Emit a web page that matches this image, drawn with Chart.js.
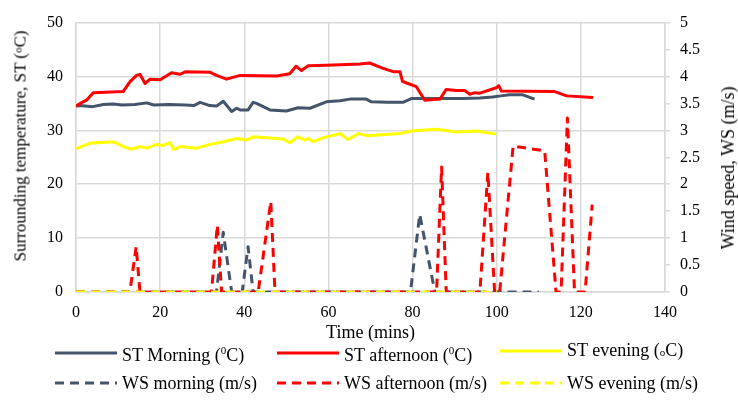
<!DOCTYPE html>
<html><head><meta charset="utf-8">
<script src="https://cdn.jsdelivr.net/npm/chart.js@4/dist/chart.umd.min.js"></script>
<style>
html,body{margin:0;padding:0;background:#fff;}
#wrap{position:relative;width:738px;height:401px;font-family:"Liberation Serif","Times New Roman",serif;color:#000;}
#c{position:absolute;left:0;top:0;}
.leg{position:absolute;display:flex;align-items:center;font-size:18px;white-space:nowrap;line-height:20px;}
.leg svg{margin-right:5px;}
.vt{position:absolute;transform:translate(-50%,-50%) rotate(-90deg);white-space:nowrap;line-height:20px;}
#lt{left:19px;top:146px;font-size:17px;}
#rt{left:728px;top:168px;font-size:18px;}
</style></head>
<body><div id="wrap"><canvas id="c" width="738" height="401"></canvas>
<div id="lt" class="vt">Surrounding temperature, ST (<span style="font-size:11px;vertical-align:4px">o</span>C)</div>
<div id="rt" class="vt">Wind speed, WS (m/s)</div>
<div id="legend"></div></div>
<script>
// ---- data ----
const xTicksMax = 140;
const stMorningT = [0,1,4,6.5,8.8,11,14,16.8,18.5,22,26,28,29.5,31.8,33.4,35,37,38.2,39,40.9,42.1,42.9,44.5,46.1,50,52.8,55.6,59.5,62.7,65.1,69,70.2,74,77.7,79.7,86.5,92,96,99,101,103.1,106.2,109];
const stMorningV = [34.5,34.6,34.4,34.8,34.9,34.7,34.8,35.1,34.7,34.8,34.7,34.6,35.2,34.6,34.5,35.4,33.5,34.1,33.8,33.8,35.2,35.0,34.4,33.8,33.6,34.2,34.1,35.3,35.5,35.8,35.8,35.3,35.2,35.2,35.9,35.9,35.9,36.0,36.2,36.4,36.6,36.6,35.8];
const stAfternoonT = [0,1,2.5,4.1,11.2,12.8,14.4,15.2,16.4,17.6,20,22.7,24.7,26.1,31.8,33.4,35.8,39,47.7,50.8,52.3,53.6,55.2,59.5,67.5,69.8,73,75.4,77,77.6,78.9,80.9,82.9,86.5,88,90.4,92.4,93.6,94.8,96,99.9,100.5,101.1,113.8,116.6,122.9];
const stAfternoonV = [34.5,35.0,35.6,37.0,37.2,39.0,40.2,40.4,38.7,39.5,39.4,40.7,40.4,40.9,40.8,40.2,39.5,40.2,40.1,40.5,41.9,41.1,42.0,42.1,42.3,42.5,41.5,40.9,40.9,39.1,38.7,38.1,35.6,35.8,37.6,37.4,37.4,36.7,37.0,36.9,37.9,38.3,37.3,37.2,36.4,36.1];
const stEveningT = [0,3.3,8.9,11.2,13.2,15.2,16.8,19.2,20.7,22.3,23.3,24.7,28.7,31.8,35,38.2,40.5,42.1,46.1,49.2,50.8,52.8,54.4,55.2,56.4,58.7,62.7,64.7,67.1,69.4,77,79.7,85.7,90.4,95.2,99.9];
const stEveningV = [26.6,27.6,27.9,27.0,26.5,27.0,26.7,27.4,27.2,27.7,26.4,27.0,26.7,27.4,27.9,28.5,28.2,28.8,28.6,28.4,27.7,28.8,28.2,28.5,27.9,28.6,29.4,28.3,29.4,29.0,29.4,29.9,30.2,29.7,29.9,29.3];
const wsMorningT = [0,33.4,35,37,39.5,40.9,42.1,79.5,81.7,85.3,110];
const wsMorningV = [0,0,1.11,0,0,0.84,0,0,1.44,0,0];
const wsAfternoonT = [0,12.8,14.3,15.2,32.2,33.6,34.6,43.3,46.3,47.3,85.7,86.9,88,96,97.9,99.5,100.7,103.9,106.2,111.4,114.1,115.3,116.8,118.5,121,122.7];
const wsAfternoonV = [0,0,0.84,0,0,1.24,0,0,1.68,0,0,2.32,0,0,2.22,0,0,2.71,2.68,2.62,0,0,3.23,0,0,1.62];
const wsEveningT = [0,100];
const wsEveningV = [0,0];
const leftTicks = {min:0,max:50,step:10};
const rightTicks = {min:0,max:5,step:0.5};

const FONT = "'Liberation Serif','Times New Roman',serif";
function pts(t,v){return t.map((x,i)=>({x:x,y:v[i]}));}
const C_M='#44546A', C_A='#FF0000', C_E='#FFFF00';
const DASH=[9,6];
const series = [
  {label:'ST Morning', html:'ST Morning (<sup style="font-size:11px">0</sup>C)', t:stMorningT, v:stMorningV, color:C_M, dash:[], axis:'y', order:5},
  {label:'ST afternoon', html:'ST afternoon (<sup style="font-size:11px">0</sup>C)', t:stAfternoonT, v:stAfternoonV, color:C_A, dash:[], axis:'y', order:4},
  {label:'ST evening', html:'ST evening (<span style="font-size:11px">o</span>C)', t:stEveningT, v:stEveningV, color:C_E, dash:[], axis:'y', order:3},
  {label:'WS morning (m/s)', html:'WS morning (m/s)', t:wsMorningT, v:wsMorningV, color:C_M, dash:DASH, axis:'y1', order:2},
  {label:'WS afternoon (m/s)', html:'WS afternoon (m/s)', t:wsAfternoonT, v:wsAfternoonV, color:C_A, dash:DASH, axis:'y1', order:1},
  {label:'WS evening (m/s)', html:'WS evening (m/s)', t:wsEveningT, v:wsEveningV, color:C_E, dash:DASH, axis:'y1', order:0}
];

const grid = '#d9d9d9';
new Chart(document.getElementById('c'), {
  type:'line',
  data:{datasets: series.map(s=>({label:s.label, data:pts(s.t,s.v), borderColor:s.color, backgroundColor:s.color, borderWidth:3, borderDash:s.dash, yAxisID:s.axis, order:s.order, fill:false}))},
  options:{
    responsive:false, animation:false, devicePixelRatio:1,
    layout:{padding:{top:18,left:30,right:0,bottom:54}},
    plugins:{legend:{display:false}, tooltip:{enabled:false}},
    elements:{point:{radius:0}, line:{tension:0, borderCapStyle:'butt', borderJoinStyle:'round'}},
    scales:{
      x:{type:'linear', min:0, max:xTicksMax,
        ticks:{stepSize:20, color:'#000', font:{family:FONT,size:16}, padding:11, maxRotation:0},
        grid:{color:grid, lineWidth:1.5, drawTicks:false}, border:{color:grid, width:1.5},
        title:{display:true, text:'Time (mins)', color:'#000', font:{family:FONT,size:18}, padding:{top:0,bottom:3}},
        afterFit(s){s.height=55;}},
      y:{position:'left', min:leftTicks.min, max:leftTicks.max,
        ticks:{stepSize:leftTicks.step, color:'#000', font:{family:FONT,size:16}, padding:13},
        grid:{color:grid, lineWidth:1.5, drawTicks:false}, border:{color:grid, width:1.5},
        afterFit(s){s.width=46;}},
      y1:{position:'right', min:rightTicks.min, max:rightTicks.max,
        ticks:{stepSize:rightTicks.step, color:'#000', font:{family:FONT,size:16}, padding:10, callback:v=>String(v)},
        grid:{drawOnChartArea:false, drawTicks:true, tickLength:5, color:grid, lineWidth:1.5}, border:{color:grid, width:1.5},
        afterFit(s){s.width=73;}}
    }
  }
});

// HTML legend (3 columns x 2 rows)
const legPos = [[55,350],[277,350],[500,350],[55,383],[277,383],[500,383]];
const lg = document.getElementById('legend');
series.forEach((s,i)=>{
  const d=document.createElement('div'); d.className='leg';
  d.style.left=legPos[i][0]+'px'; d.style.top=(legPos[i][1]-10)+'px';
  const da = s.dash.length? ' stroke-dasharray="'+s.dash.join(',')+'"':'';
  d.innerHTML='<svg width="62" height="6"><line x1="0" y1="3" x2="62" y2="3" stroke="'+s.color+'" stroke-width="3"'+da+'/></svg><span>'+s.html+'</span>';
  lg.appendChild(d);
});
</script></body></html>
